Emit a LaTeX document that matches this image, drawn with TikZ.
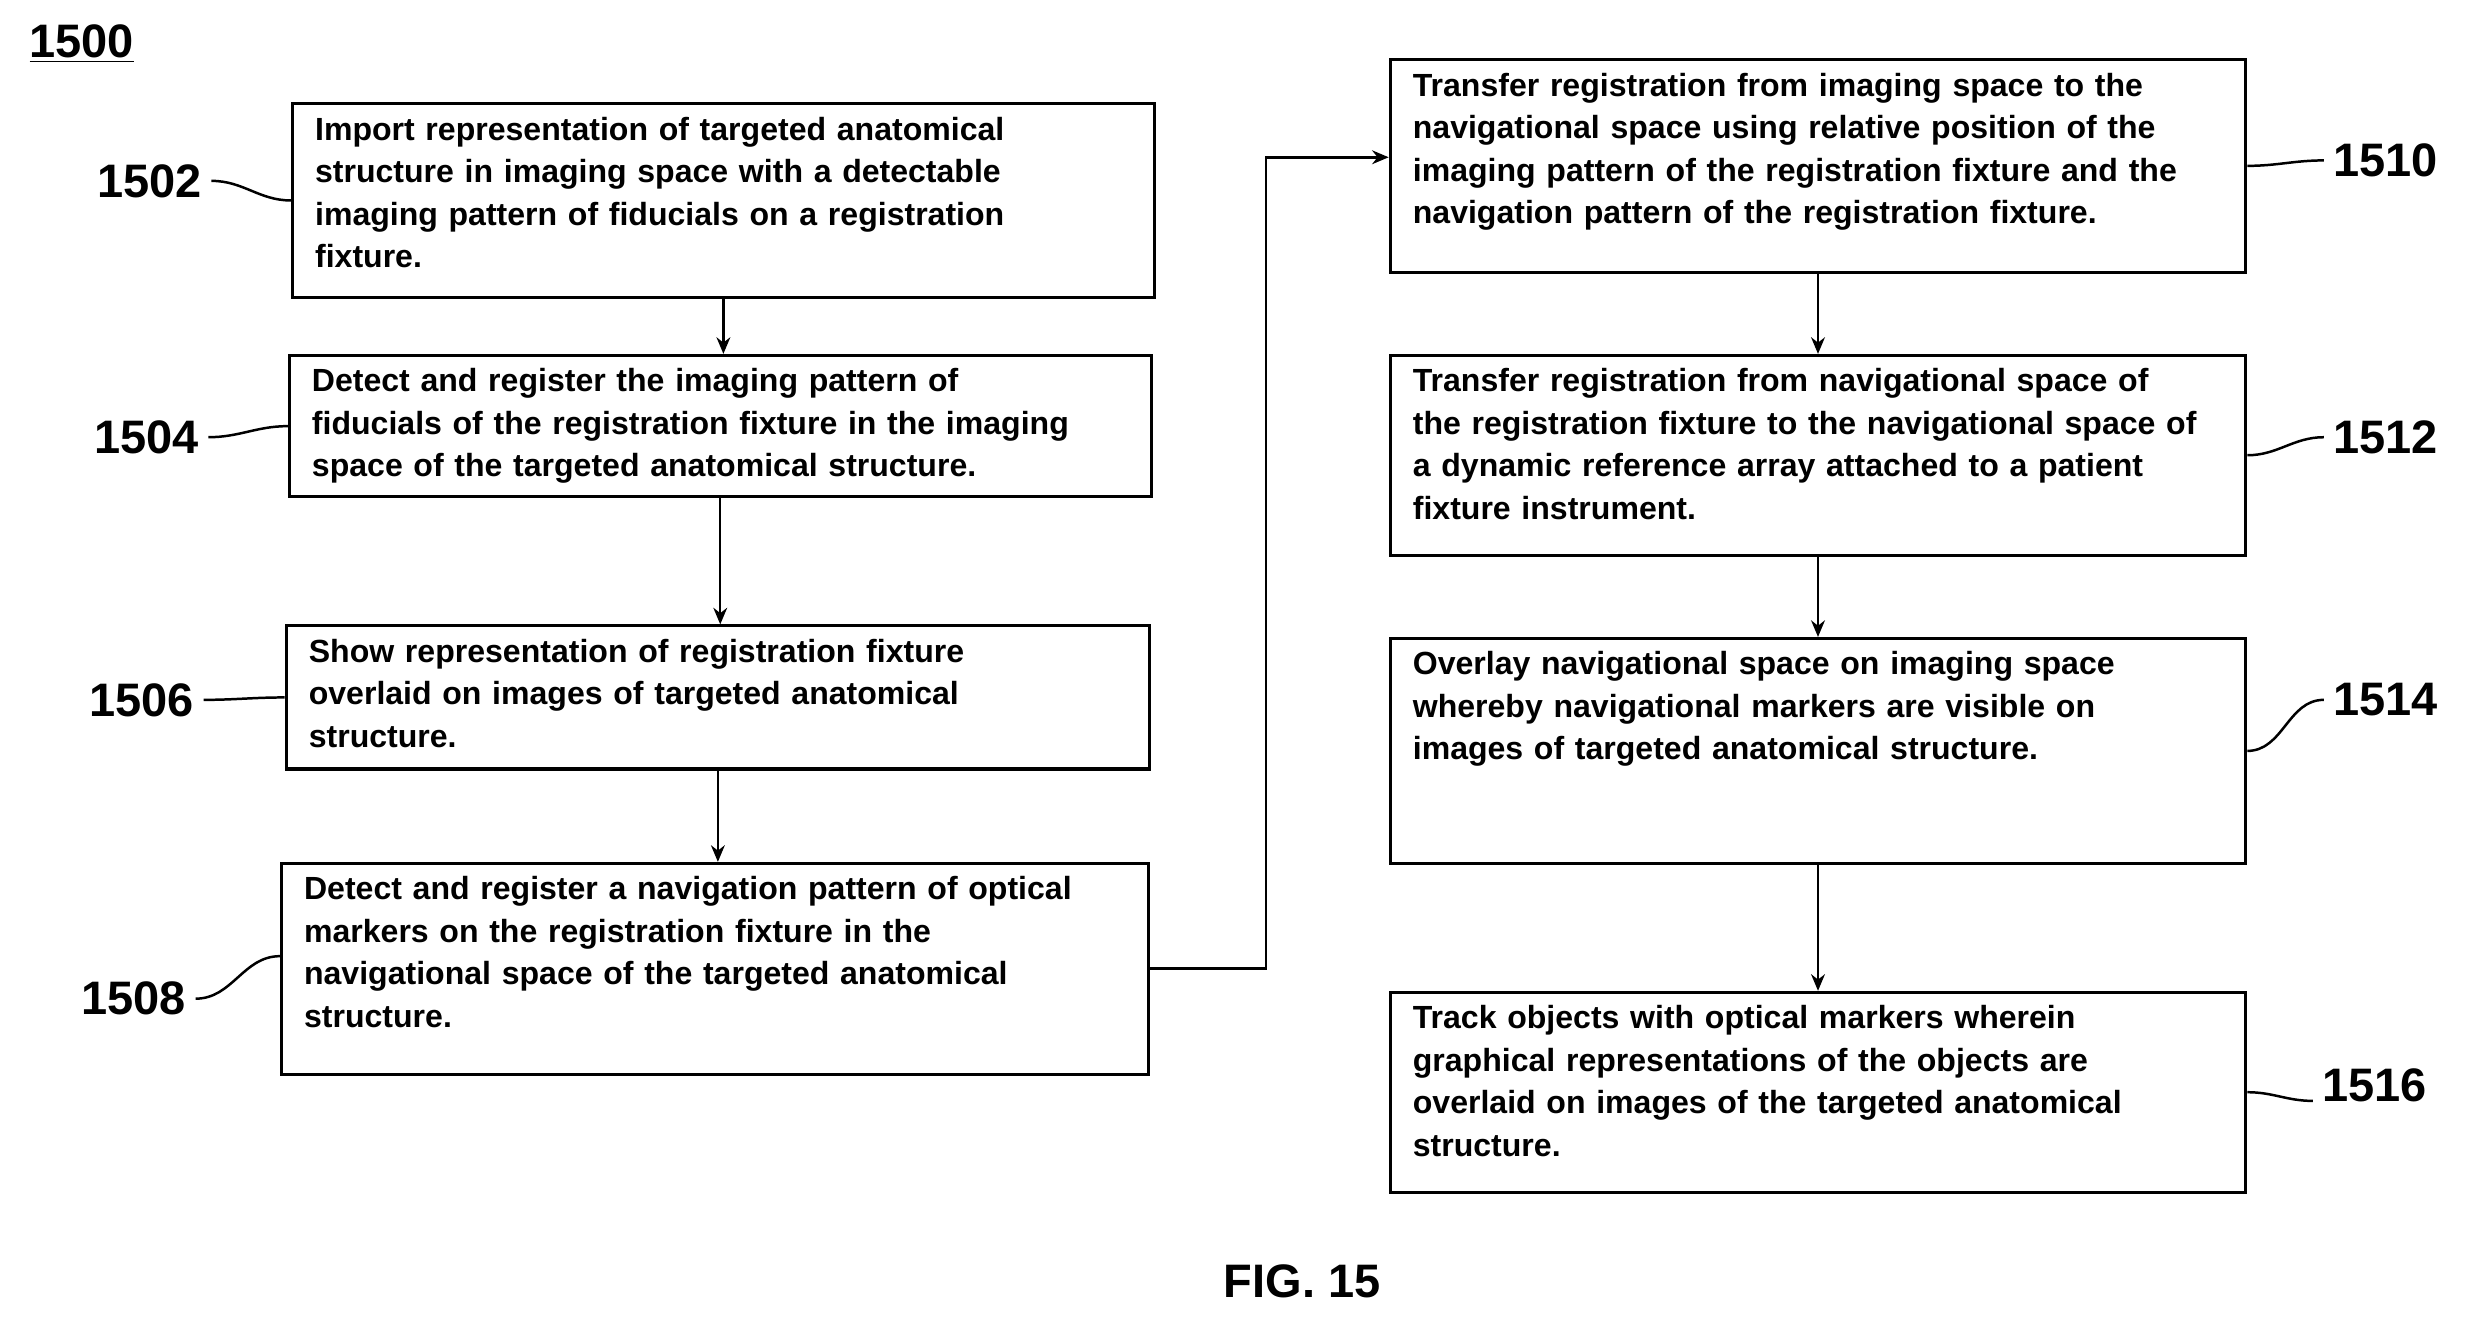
\documentclass[tikz,border=0pt]{standalone}
\usepackage{fontspec}
\setmainfont{Liberation Sans}
\usetikzlibrary{arrows.meta, positioning, calc}

\begin{document}
\begin{tikzpicture}[
    x=0.02cm, y=-0.02cm,
    box/.style={
        draw,
        line width=1.1pt,
        anchor=north west,
        inner sep=0pt
    },
    steptext/.style={
        anchor=north west,
        align=left,
        inner sep=0pt,
        font=\bfseries\fontsize{11.6}{15.4}\selectfont
    },
    ref/.style={font=\bfseries\fontsize{17}{20}\selectfont},
    lead/.style={line width=0.9pt},
    arrow/.style={
        -{Stealth[length=6pt,width=5pt]},
        line width=0.9pt
    }
]
\useasboundingbox (0,0) rectangle (1568,841);

% Step boxes: name, corners, text
\newcommand{\flowstep}[6]{%
    \node[box, minimum width={(#4-#2)*0.02cm}, minimum height={(#5-#3)*0.02cm}] (#1) at (#2,#3) {};
    \node[steptext, text width={(#4-#2-20)*0.02cm}] at ($(#1.north west)+(15,9)$) {#6};
}

% Left column
\flowstep{s1502}{185}{65}{733}{188}{Import representation of targeted anatomical\\structure in imaging space with a detectable\\imaging pattern of fiducials on a registration\\fixture.}
\flowstep{s1504}{183}{225}{731}{315}{Detect and register the imaging pattern of\\fiducials of the registration fixture in the imaging\\space of the targeted anatomical structure.}
\flowstep{s1506}{181}{397}{730}{488}{Show representation of registration fixture\\overlaid on images of targeted anatomical\\structure.}
\flowstep{s1508}{178}{548}{729}{682}{Detect and register a navigation pattern of optical\\markers on the registration fixture in the\\navigational space of the targeted anatomical\\structure.}

% Right column
\flowstep{s1510}{883}{37}{1427}{172}{Transfer registration from imaging space to the\\navigational space using relative position of the\\imaging pattern of the registration fixture and the\\navigation pattern of the registration fixture.}
\flowstep{s1512}{883}{225}{1427}{352}{Transfer registration from navigational space of\\the registration fixture to the navigational space of\\a dynamic reference array attached to a patient\\fixture instrument.}
\flowstep{s1514}{883}{405}{1427}{548}{Overlay navigational space on imaging space\\whereby navigational markers are visible on\\images of targeted anatomical structure.}
\flowstep{s1516}{883}{630}{1427}{757}{Track objects with optical markers wherein\\graphical representations of the objects are\\overlaid on images of the targeted anatomical\\structure.}

% Reference numerals
\node[ref] (r1500) at (52,28) {\underline{1500}};
\node[ref] (r1502) at (95,115) {1502};
\node[ref] (r1504) at (93,278) {1504};
\node[ref] (r1506) at (90,445) {1506};
\node[ref] (r1508) at (85,635) {1508};
\node[ref] (r1510) at (1517,102) {1510};
\node[ref] (r1512) at (1517,278) {1512};
\node[ref] (r1514) at (1517,445) {1514};
\node[ref] (r1516) at (1510,690) {1516};
\node[font=\bfseries\fontsize{17}{20}\selectfont] (fig) at (828,815) {FIG. 15};

% Leader lines
\draw[lead] (r1502.east) to[out=0,in=180] (s1502.west);
\draw[lead] (r1504.east) to[out=0,in=180] (s1504.west);
\draw[lead] (r1506.east) to[out=0,in=180] (s1506.west);
\draw[lead] (r1508.east) to[out=0,in=180] ($(s1508.west)+(0,-8)$);
\draw[lead] (r1510.west) to[out=180,in=0] (s1510.east);
\draw[lead] (r1512.west) to[out=180,in=0] (s1512.east);
\draw[lead] (r1514.west) to[out=180,in=0] (s1514.east);
\draw[lead] ($(r1516.west)+(0,10)$) to[out=180,in=0] (s1516.east);

% Arrows
\draw[arrow] (s1502.south) -- (s1502.south |- s1504.north);
\draw[arrow] (s1504.south) -- (s1504.south |- s1506.north);
\draw[arrow] (s1506.south) -- (s1506.south |- s1508.north);
\draw[arrow] (s1508.east) -| (805,100) -- (s1510.west |- 0,100);
\draw[arrow] (s1510.south) -- (s1512.north);
\draw[arrow] (s1512.south) -- (s1514.north);
\draw[arrow] (s1514.south) -- (s1516.north);

\end{tikzpicture}
\end{document}
